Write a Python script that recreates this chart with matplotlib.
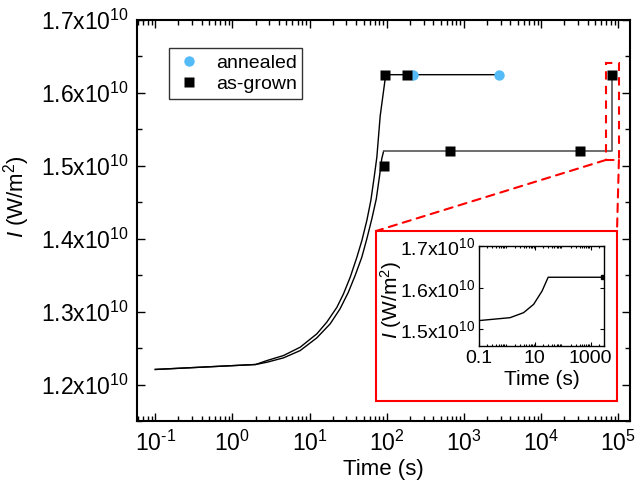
import matplotlib
matplotlib.use("Agg")
import matplotlib.pyplot as plt
import matplotlib.ticker as mticker
from matplotlib.patches import Rectangle, ConnectionPatch
import numpy as np

plt.rcParams['font.family'] = ['Liberation Sans', 'DejaVu Sans']
plt.rcParams['mathtext.fontset'] = 'custom'
plt.rcParams['mathtext.rm'] = 'Liberation Sans'
plt.rcParams['mathtext.it'] = 'Liberation Sans:italic'
plt.rcParams['mathtext.default'] = 'regular'

# ---- data (intensity in units of 1e10 W/m^2) ----
t_upper = [0.1, 2.0, 2.8, 4.59, 7.55, 12.4, 16.7, 22.6, 27.5, 33.6, 41.0, 47.6, 55.2,
           62.2, 68.7, 74.4, 82.2, 97.0, 2860.0]
I_upper = [1.2207, 1.2275, 1.2329, 1.2398, 1.2512, 1.2695, 1.2855, 1.306, 1.3244, 1.3472,
           1.3746, 1.3975, 1.425, 1.4524, 1.4844, 1.5118, 1.5683, 1.625, 1.625]

t_lower = [0.1, 2.0, 2.8, 4.59, 7.55, 12.4, 18.5, 24.8, 31.8, 38.9, 47.5, 55.2, 64.1,
           73.2, 80.8, 86.1, 91.0]
I_lower = [1.2207, 1.2275, 1.2306, 1.2366, 1.2466, 1.264, 1.2833, 1.3038, 1.3266, 1.3495,
           1.3746, 1.3999, 1.4273, 1.4547, 1.4867, 1.5096, 1.52]
t_lower_flat = [91.0, 82400.0, 82400.0]
I_lower_flat = [1.52, 1.52, 1.625]

t_annealed = [218.0, 2860.0]
I_annealed = [1.625, 1.625]

t_asgrown = [95.0, 182.0, 91.0, 668.0, 31600.0, 82400.0]
I_asgrown = [1.625, 1.625, 1.500, 1.52, 1.52, 1.625]

t_inset = [0.1, 1.3, 3.95, 9.06, 18.1, 30.0, 2770.0]
I_inset = [1.521, 1.528, 1.540, 1.560, 1.5918, 1.625, 1.625]

SCALE = 1e10
yticks_main = [1.2, 1.3, 1.4, 1.5, 1.6, 1.7]
xticks_exp = [-1, 0, 1, 2, 3, 4, 5]
yticks_inset = [1.5, 1.6, 1.7]
xticks_inset = [0.1, 10, 1000]
xticklabels_inset = ['0.1', '10', '1000']

W, H = 642, 483
fig = plt.figure(figsize=(W / 100, H / 100), dpi=100)

def fx(px):
    return px / W

def fy(py):
    return 1 - py / H

L, R, T, B = 137, 630, 20, 421
ax = fig.add_axes([fx(L), fy(B), fx(R) - fx(L), fy(T) - fy(B)])

ax.plot(t_upper, np.array(I_upper) * SCALE, color='black', lw=1.0, zorder=2)
ax.plot(t_lower, np.array(I_lower) * SCALE, color='black', lw=1.0, zorder=2)
ax.plot(t_lower_flat, np.array(I_lower_flat) * SCALE, color='#555555', lw=1.2, zorder=2)
ax.plot(t_annealed, np.array(I_annealed) * SCALE, 'o', color='#55BBF7', ms=7.5,
        mec='none', label='annealed', zorder=3)
ax.plot(t_asgrown, np.array(I_asgrown) * SCALE, 's', color='black', ms=7,
        mec='none', label='as-grown', zorder=4)

ax.set_xscale('log')
ax.set_xlim(0.058, 1.42e5)
ax.set_ylim(1.15 * SCALE, 1.70 * SCALE)
ax.set_yticks([v * SCALE for v in yticks_main])
ax.yaxis.set_minor_locator(mticker.MultipleLocator(0.05 * SCALE))

def yfmt(v, pos):
    return '%.1fx10$^{10}$' % (v / SCALE)

def xfmt(v, pos):
    e = int(round(np.log10(v)))
    if e < 0:
        return '10$^{\\text{-}%d}$' % (-e)
    return '10$^{%d}$' % e

ax.yaxis.set_major_formatter(mticker.FuncFormatter(yfmt))
ax.xaxis.set_major_locator(mticker.FixedLocator([10.0 ** e for e in xticks_exp]))
ax.xaxis.set_major_formatter(mticker.FuncFormatter(xfmt))
ax.xaxis.set_minor_locator(mticker.LogLocator(base=10, subs=np.arange(2, 10), numticks=20))
ax.xaxis.set_minor_formatter(mticker.NullFormatter())

ax.tick_params(which='both', direction='in', top=True, right=True, width=1.0)
ax.tick_params(which='major', length=6, labelsize=16.5)
ax.tick_params(which='minor', length=3.5)
ax.tick_params(axis='y', which='major', pad=6)
ax.tick_params(axis='x', which='major', pad=7)
for s in ax.spines.values():
    s.set_linewidth(1.5)

ax.set_xlabel('Time (s)', fontsize=16, labelpad=2)
ax.set_ylabel('$\\it{I}$ (W/m$^2$)', fontsize=16)
ax.yaxis.set_label_coords(-0.212, 0.561)

leg = ax.legend(loc='upper left', bbox_to_anchor=(0.065, 0.93), borderaxespad=0,
                fontsize=14, frameon=True, fancybox=False, edgecolor='black',
                handletextpad=0.6, borderpad=0.3, labelspacing=0.2, handlelength=1.5)
leg.get_frame().set_linewidth(1.0)

# dashed zoom rectangle
rx0, rx1 = 68900, 1.02e5
ry0, ry1 = 1.508 * SCALE, 1.641 * SCALE
ax.add_patch(Rectangle((rx0, ry0), rx1 - rx0, ry1 - ry0, fill=False, edgecolor='red',
                       lw=1.5, ls=(0, (4, 3)), zorder=5, clip_on=False))

# inset red box
bx0, by0, bx1, by1 = 376, 231, 617, 401
box = Rectangle((fx(bx0), fy(by1)), fx(bx1) - fx(bx0), fy(by0) - fy(by1),
                transform=fig.transFigure, facecolor='white', edgecolor='red',
                lw=1.5, zorder=10)
fig.patches.append(box)

for (xa, ya), (xb, yb) in [((rx0, ry0), (fx(bx0), fy(by0))), ((rx1, ry0), (fx(bx1), fy(by0)))]:
    cp = ConnectionPatch(xyA=(xa, ya), coordsA=ax.transData, xyB=(xb, yb),
                         coordsB=fig.transFigure, color='red', lw=1.5,
                         ls=(0, (4, 3)), zorder=6)
    fig.add_artist(cp)

# inset axes
iL, iR, iT, iB = 479, 604, 246, 346
axi = fig.add_axes([fx(iL), fy(iB), fx(iR) - fx(iL), fy(iT) - fy(iB)], zorder=11)
axi.plot(t_inset, np.array(I_inset) * SCALE, color='black', lw=1.0)
axi.plot([t_inset[-1]], [I_inset[-1] * SCALE], 's', color='black', ms=2.5)
axi.set_xscale('log')
axi.set_xlim(0.1, 3000)
axi.set_ylim(1.46 * SCALE, 1.70 * SCALE)
axi.set_yticks([v * SCALE for v in yticks_inset])
axi.yaxis.set_major_formatter(mticker.FuncFormatter(yfmt))
axi.set_xticks(xticks_inset)
axi.set_xticklabels(xticklabels_inset)
axi.xaxis.set_minor_locator(mticker.LogLocator(base=10, subs=np.arange(2, 10), numticks=20))
axi.xaxis.set_minor_formatter(mticker.NullFormatter())
axi.tick_params(which='both', direction='in', top=True, right=True, width=0.8)
axi.tick_params(which='major', length=3, labelsize=14, pad=3)
axi.tick_params(which='minor', length=1.5)
for s in axi.spines.values():
    s.set_linewidth(1.0)
axi.set_xlabel('Time (s)', fontsize=15, labelpad=2)
axi.set_ylabel('$\\it{I}$ (W/m$^2$)', fontsize=15, labelpad=0)
axi.yaxis.set_label_coords(-0.60, 0.46)

fig.savefig('out.png', dpi=100)
